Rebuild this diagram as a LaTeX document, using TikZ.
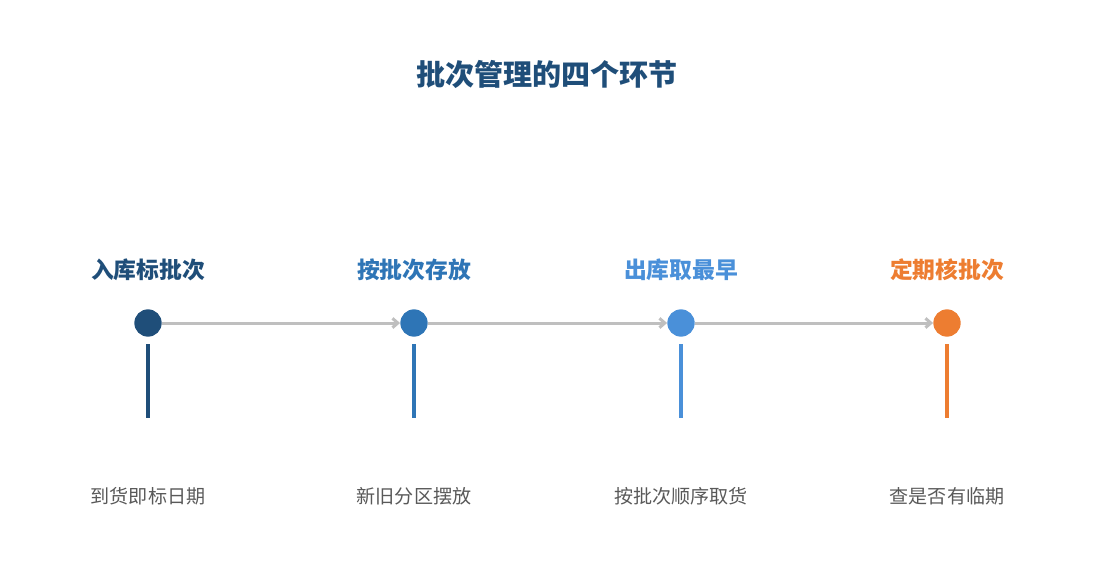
\documentclass[tikz,border=0pt]{standalone}
\usepackage{fontspec}
\setmainfont{Noto Sans CJK SC}
\usetikzlibrary{positioning,arrows.meta}

\definecolor{stepA}{HTML}{1F4E79}
\definecolor{stepB}{HTML}{2E75B6}
\definecolor{stepC}{HTML}{4A90D9}
\definecolor{stepD}{HTML}{ED7D31}
\definecolor{descgray}{HTML}{595959}
\definecolor{linkgray}{HTML}{BFBFBF}

\begin{document}
\begin{tikzpicture}[x=0.75pt, y=-0.75pt,
    dot/.style={circle, fill=#1, minimum size=20.5pt, inner sep=0pt},
    steplabel/.style={text=#1, font=\bfseries\fontsize{17.1}{20}\selectfont},
    desc/.style={text=descgray, font=\fontsize{14.3}{17}\selectfont},
    bar/.style={line width=2.6pt, draw=#1},
    link/.style={-{Straight Barb[length=4pt, width=7pt]}, line width=2.25pt, draw=linkgray}]

    % Canvas
    \useasboundingbox (0,0) rectangle (1095,585);

    % Title
    \node[text=stepA, font=\bfseries\fontsize{21.8}{26}\selectfont] (title) at (547,74) {批次管理的四个环节};

    % Steps: dot, label above, bar and text below
    \foreach \name/\x/\col/\lab/\txt in {a/148/stepA/入库标批次/到货即标日期,
                                         b/414/stepB/按批次存放/新旧分区摆放,
                                         c/681/stepC/出库取最早/按批次顺序取货,
                                         d/947/stepD/定期核批次/查是否有临期} {
        \node[dot=\col] (\name) at (\x,323) {};
        \node[steplabel=\col] (\name label) at (\x,270) {\lab};
        \coordinate (\name top) at (\x,344);
        \coordinate (\name bottom) at (\x,418);
        \draw[bar=\col] (\name top) -- (\name bottom);
        \node[desc] (\name desc) at (\x,496) {\txt};
    }

    % Links between steps
    \draw[link] (a) -- (b);
    \draw[link] (b) -- (c);
    \draw[link] (c) -- (d);

\end{tikzpicture}
\end{document}
